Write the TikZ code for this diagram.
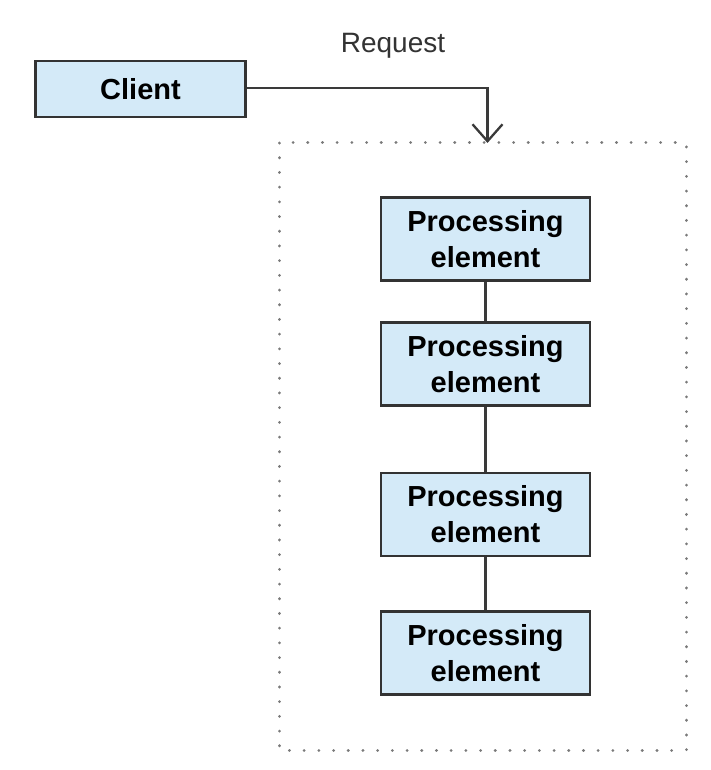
\documentclass[tikz,border=0pt]{standalone}
\usepackage{fontspec}
\setmainfont{Liberation Sans}
\usetikzlibrary{arrows.meta}
\definecolor{boxfill}{HTML}{D4EAF8}
\definecolor{boxline}{HTML}{333333}
\definecolor{conn}{HTML}{3A3A3A}
\definecolor{dotc}{HTML}{7A7A7A}
\tikzset{
  pebox/.style={draw=boxline, line width=2.5pt, fill=boxfill, minimum width=209pt, minimum height=83pt, align=center, font=\fontsize{29}{36}\selectfont\bfseries, inner sep=0pt},
  clientbox/.style={draw=boxline, line width=2.5pt, fill=boxfill, minimum width=210pt, minimum height=56pt, font=\fontsize{29}{36}\selectfont\bfseries, inner sep=0pt},
  wire/.style={draw=conn, line width=2.3pt},
  groupbox/.style={draw=dotc, line width=3pt, dash pattern=on 0.1pt off 14.6pt, line cap=round}
}
\begin{document}
\begin{tikzpicture}[x=1pt,y=-1pt]
\useasboundingbox (0,0) rectangle (710,770);
\draw[groupbox] (279,143) rectangle (686,750);
\node[clientbox] (client) at (140.5,89) {Client};
\node[font=\fontsize{28}{34}\selectfont, text=black!80] (req) at (393,46) {Request};
\node[pebox] (p1) at (485.5,239) {Processing\\element};
\node[pebox] (p2) at (485.5,364) {Processing\\element};
\node[pebox] (p3) at (485.5,514.5) {Processing\\element};
\node[pebox] (p4) at (485.5,653) {Processing\\element};
\coordinate (tip) at (487.5,143);
\draw[wire, -{Straight Barb[length=17pt,width=30pt,line width=2.3pt]}] (client.east |- 0,88) -| (tip);
\draw[wire] (p1) -- (p2);
\draw[wire] (p2) -- (p3);
\draw[wire] (p3) -- (p4);
\end{tikzpicture}
\end{document}
